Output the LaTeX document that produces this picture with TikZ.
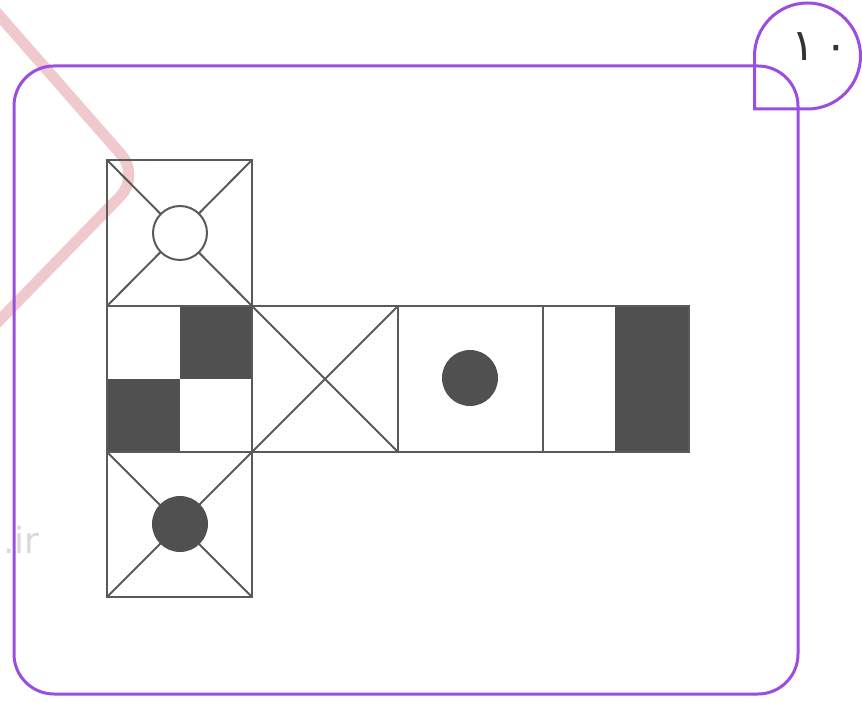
\documentclass[tikz,border=0pt]{standalone}
\usepackage{fontspec}
\newfontfamily\arabicfont[Script=Arabic]{DejaVu Sans}
\newfontfamily\wmfont{DejaVu Sans}
\definecolor{frame}{HTML}{9B4DE0}
\definecolor{netline}{HTML}{5A5A5A}
\definecolor{netfill}{HTML}{505050}
\definecolor{wmpink}{HTML}{E9B3B8}
\tikzset{
  netstroke/.style={draw=netline, line width=2pt},
  framestroke/.style={draw=frame, line width=3pt},
}
\begin{document}
\begin{tikzpicture}[x=1pt,y=1pt]
\useasboundingbox (0,0) rectangle (862,702);
\fill[white] (0,0) rectangle (862,702);
% watermark chevron
\draw[wmpink, line width=11pt, opacity=0.7, rounded corners=28pt, line cap=round]
  (-10,697) -- (140,526) -- (-10,372);
\node[text=gray!30, font=\wmfont\fontsize{36}{36}\selectfont, anchor=west] (wm) at (0,162) {.ir};
% frame
\draw[framestroke, rounded corners=40pt] (14,8) rectangle (798,636);
\draw[framestroke] (754.5,593) -- (754.5,646) arc[start angle=180, end angle=-90, radius=53] -- cycle;
\node[font=\arabicfont\fontsize{44}{44}\selectfont, text=black!80] (num) at (820,655) {۱\hspace{10pt}۰};
% net fills
\fill[netfill] (180,323) rectangle (252,396);
\fill[netfill] (107,250) rectangle (180,323);
\fill[netfill] (615,250) rectangle (689,396);
% squares
\draw[netstroke] (107,396) rectangle (252,542);
\draw[netstroke] (107,250) rectangle (252,396);
\draw[netstroke] (252,250) rectangle (398,396);
\draw[netstroke] (398,250) rectangle (543,396);
\draw[netstroke] (543,250) rectangle (689,396);
\draw[netstroke] (107,105) rectangle (252,250);
% diagonals
\draw[netstroke] (107,396) -- (252,542) (107,542) -- (252,396);
\draw[netstroke] (252,250) -- (398,396) (252,396) -- (398,250);
\draw[netstroke] (107,105) -- (252,250) (107,250) -- (252,105);
% circles
\draw[netstroke, fill=white] (180,469) circle[radius=27];
\fill[netfill] (180,178) circle[radius=28];
\fill[netfill] (470,324) circle[radius=28];
\end{tikzpicture}
\end{document}
